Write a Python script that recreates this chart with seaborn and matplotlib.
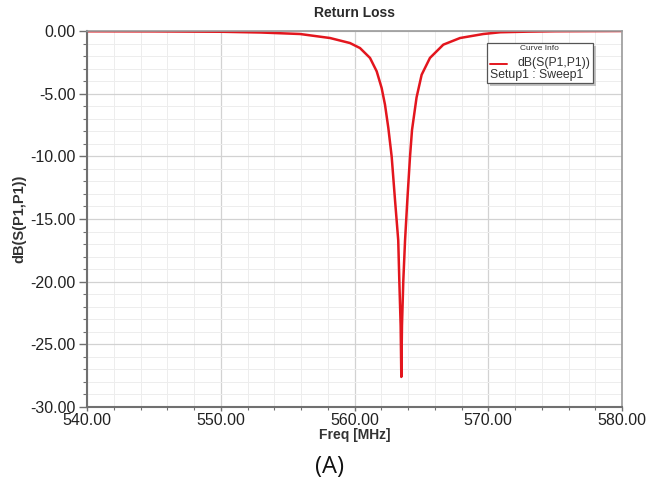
import numpy as np
import pandas as pd
import matplotlib
matplotlib.use("Agg")
import matplotlib.pyplot as plt
from matplotlib.patches import Rectangle
from matplotlib.lines import Line2D
from matplotlib.ticker import MultipleLocator, FormatStrFormatter
import seaborn as sns

freq_mhz = [540.0, 545.0, 550.0, 553.0, 555.93, 558.17, 559.66, 560.41, 561.16, 561.66,
            562.03, 562.28, 562.53, 562.78, 563.03, 563.27, 563.35, 563.45, 563.5, 563.55,
            563.65, 563.78, 563.95, 564.15, 564.3, 564.64, 565.02, 565.64, 566.64, 567.89,
            569.63, 570.9, 573.0, 575.0, 580.0]
s11_db = [-0.02, -0.03, -0.06, -0.12, -0.24, -0.56, -0.96, -1.36, -2.15, -3.22,
          -4.55, -5.88, -7.74, -10.03, -13.5, -16.7, -19.9, -23.5, -27.6, -23.5,
          -19.9, -16.7, -13.5, -10.03, -7.9, -5.3, -3.49, -2.15, -1.09, -0.56,
          -0.24, -0.1, -0.05, -0.02, 0.0]

x_ticks = [540, 550, 560, 570, 580]
y_ticks = [0, -5, -10, -15, -20, -25, -30]

df = pd.DataFrame({"Freq [MHz]": freq_mhz, "dB(S(P1,P1))": s11_db})

sns.set_theme(style="white")
plt.rcParams["font.family"] = ["Liberation Sans", "DejaVu Sans"]

W, H = 648, 486
L, R, T, B = 87, 622, 31, 407
fig = plt.figure(figsize=(W/100, H/100), dpi=100)
ax = fig.add_axes([L/W, 1-B/H, (R-L)/W, (B-T)/H])

sns.lineplot(data=df, x="Freq [MHz]", y="dB(S(P1,P1))", ax=ax,
             color="#e3161e", linewidth=1.8, sort=False)

ax.set_xlim(540, 580)
ax.set_ylim(-30, 0)
ax.set_xticks(x_ticks)
ax.set_yticks(y_ticks)
ax.xaxis.set_minor_locator(MultipleLocator(2))
ax.yaxis.set_minor_locator(MultipleLocator(1))
ax.xaxis.set_major_formatter(FormatStrFormatter("%.2f"))
ax.yaxis.set_major_formatter(FormatStrFormatter("%.2f"))

ax.grid(which="major", color="#d2d2d2", linewidth=0.9)
ax.grid(which="minor", color="#ededed", linewidth=0.7)
ax.set_axisbelow(True)

for sp in ax.spines.values():
    sp.set_color("#9a9a9a")
    sp.set_linewidth(1.2)
for s in ("left", "bottom"):
    ax.spines[s].set_color("#707070")
    ax.spines[s].set_linewidth(1.5)

ax.tick_params(which="both", direction="out", color="#707070", bottom=True, left=True)
ax.tick_params(axis="y", which="major", length=6, width=1, pad=2)
ax.tick_params(axis="y", which="minor", length=3, width=0.8)
ax.tick_params(axis="x", which="major", length=3, width=1, pad=1)
ax.tick_params(axis="x", which="minor", length=2.5, width=0.8)
ax.tick_params(which="major", labelsize=11.5, labelcolor="#222222")

ax.set_xlabel("Freq [MHz]", fontsize=10, fontweight="bold", color="#333333", labelpad=0)
ax.set_ylabel("dB(S(P1,P1))", fontsize=10.5, fontweight="bold", color="#333333", labelpad=3)
ax.set_title("Return Loss", fontsize=10, fontweight="bold", color="#2a2a2a", pad=10)

def ax_x(px):
    return (px - L) / (R - L)

def ax_y(py):
    return 1 - (py - T) / (B - T)

# legend box (Curve Info)
bx0, bx1, by0, by1 = 486.7, 592.7, 42.7, 83.3
ax.add_patch(Rectangle((ax_x(bx0 + 3), ax_y(by1 + 3)), ax_x(bx1) - ax_x(bx0), ax_y(by0) - ax_y(by1),
                       transform=ax.transAxes, facecolor="#c4c4c4", edgecolor="none", zorder=5))
ax.add_patch(Rectangle((ax_x(bx0), ax_y(by1)), ax_x(bx1) - ax_x(bx0), ax_y(by0) - ax_y(by1),
                       transform=ax.transAxes, facecolor="white", edgecolor="#555555",
                       linewidth=0.9, zorder=6))
ax.text(ax_x(539.5), ax_y(49), "Curve Info", transform=ax.transAxes,
        ha="center", va="center", fontsize=6, color="#333333", zorder=7)
ax.add_line(Line2D([ax_x(490), ax_x(507)], [ax_y(64.3)] * 2, transform=ax.transAxes,
                   color="#e3161e", linewidth=1.4, zorder=7))
ax.text(ax_x(590), ax_y(63.3), "dB(S(P1,P1))", transform=ax.transAxes,
        ha="right", va="center", fontsize=8.8, color="#333333", zorder=7)
ax.text(ax_x(489.5), ax_y(75), "Setup1 : Sweep1", transform=ax.transAxes,
        ha="left", va="center", fontsize=8.8, color="#333333", zorder=7)

fig.text(330/W, 1-467/H, "(A)", ha="center", va="center", fontsize=17,
         family=["Open Sans", "DejaVu Sans"], color="#111111")

fig.savefig("out.png", dpi=100, facecolor="white")
